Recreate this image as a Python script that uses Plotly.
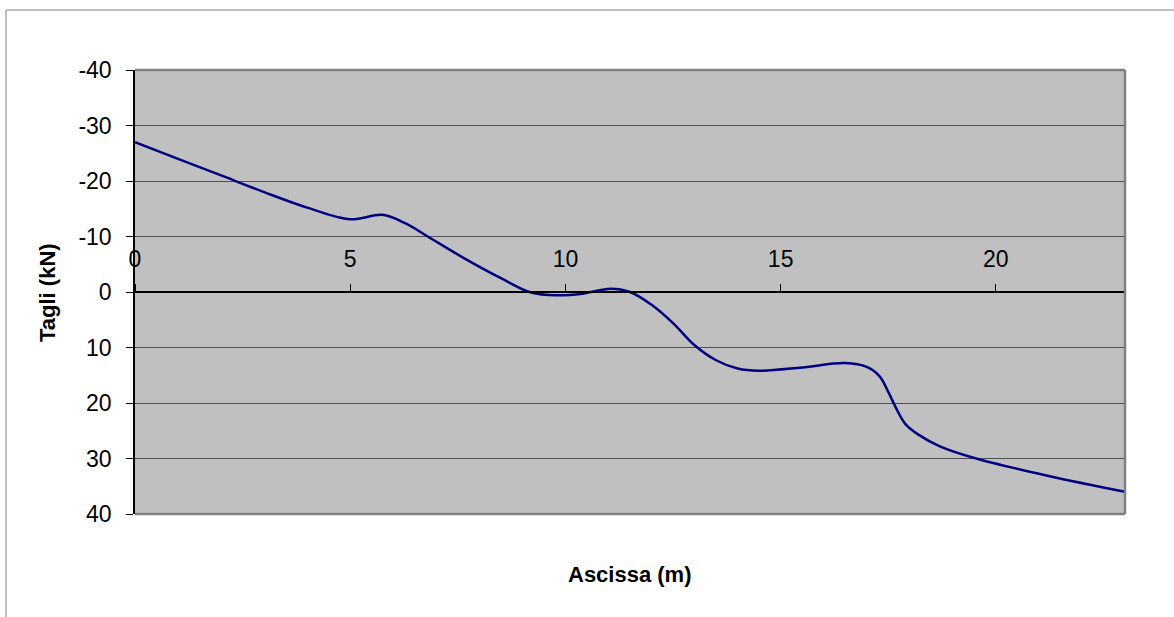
import plotly.graph_objects as go

# Data
ascissa = [0, 1, 2, 3, 4, 5.0, 5.75, 6.3, 6.8, 7.6, 8.5, 9.2, 9.8, 10.4, 11.05,
           11.5, 12.0, 12.5, 13.0, 13.5, 14.0, 14.5, 15.5, 16.5, 17.0, 17.3, 17.5,
           17.7, 17.9, 18.2, 18.7, 19.5, 21.2, 23.0]
tagli = [-27.0, -24.0, -21.0, -18.0, -15.2, -13.1, -13.9, -12.3, -10.0, -6.3,
         -2.5, 0.1, 0.6, 0.3, -0.6, 0.0, 2.3, 5.6, 9.6, 12.3, 13.8, 14.2, 13.6, 12.8,
         13.5, 15.2, 18.0, 21.2, 23.8, 25.7, 27.8, 29.9, 33.1, 36.0]
y_ticks = [-40, -30, -20, -10, 0, 10, 20, 30, 40]
y_labels = ["-40", "-30", "-20", "-10", "0", "10", "20", "30", "40"]
x_ticks = [0, 5, 10, 15, 20]
x_labels = ["0", "5", "10", "15", "20"]

FONT = "Liberation Sans, Arial, sans-serif"
FS = 23

fig = go.Figure()
fig.add_trace(go.Scatter(
    x=ascissa, y=tagli, mode="lines",
    line=dict(color="#000080", width=2.5, shape="spline", smoothing=1.0),
    hoverinfo="x+y", showlegend=False,
))

fig.update_layout(
    width=1174, height=617,
    margin=dict(l=135, r=49, t=70, b=103),
    paper_bgcolor="white",
    plot_bgcolor="#C0C0C0",
    font=dict(family=FONT, size=FS, color="black"),
    xaxis=dict(
        range=[0, 23], tickvals=x_ticks, ticktext=x_labels, side="top",
        anchor="free", position=0.5,
        showline=True, linecolor="black", linewidth=1.5,
        ticks="outside", ticklen=7, tickcolor="black", tickwidth=1,
        ticklabelstandoff=8,
        showgrid=False, zeroline=False,
        tickfont=dict(family=FONT, size=FS, color="black"),
    ),
    yaxis=dict(
        range=[40, -40], tickvals=y_ticks, ticktext=y_labels,
        showline=True, linecolor="black", linewidth=1.5,
        ticks="outside", ticklen=7, tickcolor="black",
        ticklabelstandoff=10,
        showgrid=True, gridcolor="#505050", gridwidth=1,
        zeroline=False,
        tickfont=dict(family=FONT, size=FS, color="black"),
    ),
    shapes=[
        # outer chart frame
        dict(type="rect", xref="paper", yref="paper",
             x0=-0.1303, x1=1.2, y0=-0.6, y1=1.135,
             line=dict(color="#808080", width=1), layer="below"),
        # plot area border (top, right, bottom)
        dict(type="line", xref="paper", yref="paper", x0=0, x1=1, y0=1, y1=1,
             line=dict(color="#808080", width=2.5)),
        dict(type="line", xref="paper", yref="paper", x0=1, x1=1, y0=0, y1=1,
             line=dict(color="#808080", width=2.5)),
        dict(type="line", xref="paper", yref="paper", x0=0, x1=1, y0=0, y1=0,
             line=dict(color="#808080", width=2.5)),
    ],
    annotations=[
        dict(text="<b>Tagli (kN)</b>", xref="paper", yref="paper",
             x=-0.0889, y=0.5, textangle=-90, showarrow=False,
             xanchor="center", yanchor="middle",
             font=dict(family=FONT, size=FS - 1, color="black")),
        dict(text="<b>Ascissa (m)</b>", xref="paper", yref="paper",
             x=0.5, y=-0.137, showarrow=False,
             xanchor="center", yanchor="middle",
             font=dict(family=FONT, size=FS - 1, color="black")),
    ],
)

fig.write_html(
    "out.html",
    config={"displayModeBar": False},
    post_script="document.body.style.margin='0';document.body.style.overflow='hidden';",
)
